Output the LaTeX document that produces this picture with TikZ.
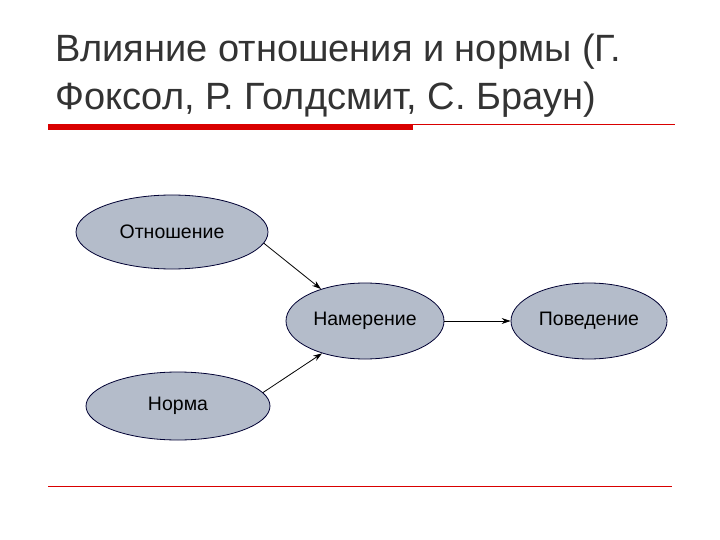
\documentclass[tikz,border=0pt]{standalone}
\usepackage{fontspec}
\setmainfont{Liberation Sans}
\usetikzlibrary{shapes.geometric,arrows.meta}
\begin{document}
\begin{tikzpicture}[x=1pt,y=-1pt,
  ell/.style={ellipse,draw=black!80!blue,line width=0.8pt,fill={rgb,255:red,180;green,188;blue,202},inner sep=0pt,font=\fontsize{19.5}{23}\selectfont},
  conn/.style={-{Stealth[length=9pt,width=6pt]},line width=0.8pt}]
\useasboundingbox[fill=white] (0,0) rectangle (720,540);
\node[anchor=base west,font=\fontsize{38}{44}\selectfont,text=black!80,inner sep=0pt] (t1) at (55,62) {Влияние отношения и нормы (Г.};
\node[anchor=base west,font=\fontsize{38}{44}\selectfont,text=black!80,inner sep=0pt] (t2) at (55,110) {Фоксол, Р. Голдсмит, С. Браун)};
\draw[red!85!black,line width=6pt] (48,127) -- (413,127);
\draw[red!85!black,line width=0.6pt] (413,124) -- (675,124);
\draw[red!85!black,line width=0.6pt] (48,486) -- (672,486);
\node[ell,minimum width=192,minimum height=74] (a) at (172,232) {Отношение};
\node[ell,minimum width=158,minimum height=76] (b) at (365,321) {Намерение};
\node[ell,minimum width=156,minimum height=76] (c) at (589,321) {Поведение};
\node[ell,minimum width=184,minimum height=68] (d) at (178,406) {Норма};
\draw[conn] (a.-7) -- (b.144);
\draw[conn] (b.east) -- (c.west);
\draw[conn] (d.9) -- (b.217);
\end{tikzpicture}
\end{document}
